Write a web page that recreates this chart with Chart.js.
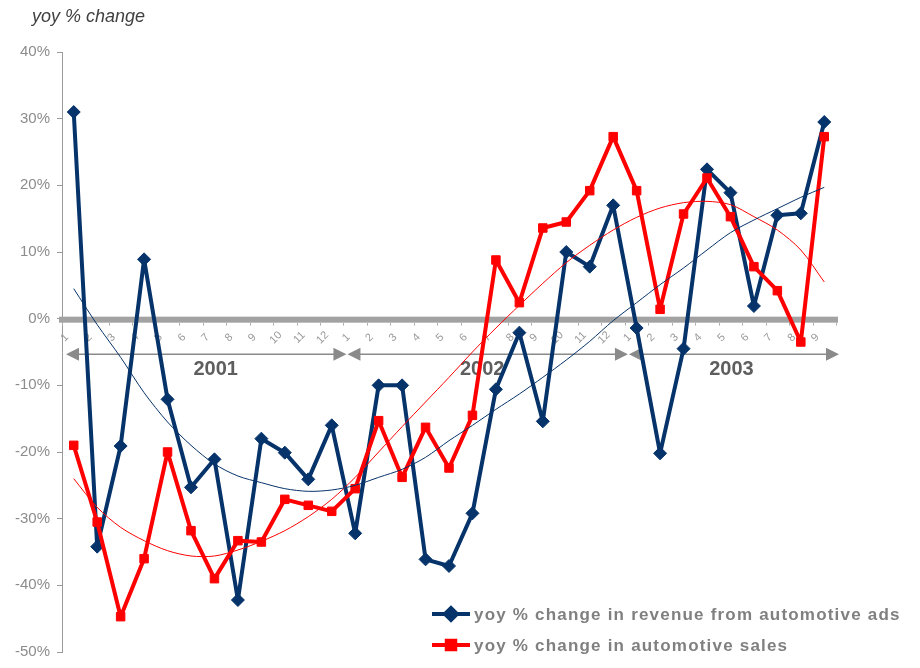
<!DOCTYPE html>
<html>
<head>
<meta charset="utf-8">
<script src="https://cdn.jsdelivr.net/npm/chart.js@4.4.1/dist/chart.umd.min.js"></script>
<style>
  body { margin: 0; background: #fff; }
  #wrap { width: 920px; height: 668px; }
</style>
</head>
<body>
<div id="wrap"><canvas id="autoChart"></canvas></div>
<script>
// month numbers under the zero line (2001: 1-12, 2002: 1-12, 2003: 1-9)
const months = ["1", "2", "3", "4", "5", "6", "7", "8", "9", "10", "11", "12",
  "1", "2", "3", "4", "5", "6", "7", "8", "9", "10", "11", "12",
  "1", "2", "3", "4", "5", "6", "7", "8", "9"];
const years = ["2001", "2002", "2003"];
const yearFirst = [0, 12, 24]; // first month index of each year
const yearLast = [11, 23, 32];

// yoy % change
const adRevenue = [31.0, -34.2, -19.1, 8.9, -12.1, -25.3, -21.1, -42.2, -18.0, -20.1, -24.1, -16.0,
  -32.2, -10.0, -10.0, -36.1, -37.1, -29.2, -10.6, -2.1, -15.4, 10.0, 7.8, 17.0,
  -1.4, -20.2, -4.5, 22.4, 18.9, 1.9, 15.5, 15.8, 29.5];
const autoSales = [-19.0, -30.5, -44.7, -36.0, -20.0, -31.8, -39.0, -33.3, -33.5, -27.1, -28.0, -28.9,
  -25.5, -15.3, -23.8, -16.3, -22.4, -14.5, 8.8, 2.4, 13.6, 14.5, 19.2, 27.3,
  19.2, 1.4, 15.7, 21.1, 15.3, 7.8, 4.2, -3.5, 27.3];

// thin trend curves, also
const adTrend = [4.5, -0.9, -5.8, -11.1, -15.5, -19.0, -21.8, -23.6, -24.6, -25.5, -25.9, -25.7,
  -25.0, -23.8, -22.6, -20.8, -18.3, -16.0, -13.6, -11.3, -8.8, -6.2, -3.4, -0.3,
  2.4, 5.1, 7.6, 10.3, 12.9, 14.8, 16.5, 18.2, 19.7];
const salesTrend = [-24.0, -28.3, -31.3, -33.3, -34.8, -35.6, -35.6, -34.7, -33.4, -31.8, -29.7, -27.1,
  -23.8, -20.0, -16.2, -12.5, -8.8, -5.0, -1.4, 2.0, 5.3, 8.4, 11.0, 13.3,
  15.2, 16.6, 17.4, 17.6, 17.1, 15.3, 13.3, 10.3, 5.5];

const yTicks = [40, 30, 20, 10, 0, -10, -20, -30, -40, -50];

const navy = "#05336a";
const red = "#ff0000";
const font = "'Liberation Sans', Arial, sans-serif";

function drawArrowHead(ctx, tipX, y, dir) {
  ctx.beginPath();
  ctx.moveTo(tipX, y);
  ctx.lineTo(tipX + dir * 13, y - 6.5);
  ctx.lineTo(tipX + dir * 13, y + 6.5);
  ctx.closePath();
  ctx.fill();
}

// zero band, month labels and year arrows go under the lines
const axisDecor = {
  id: "axisDecor",
  beforeDatasetsDraw(chart) {
    const ctx = chart.ctx;
    const xs = chart.scales.x;
    const ys = chart.scales.y;
    const area = chart.chartArea;
    const zero = ys.getPixelForValue(0);
    const step = xs.getPixelForValue(1) - xs.getPixelForValue(0);
    ctx.save();

    ctx.fillStyle = "#a2a2a2";
    ctx.fillRect(area.left - 3, zero - 2, area.right - area.left + 5, 6);

    ctx.strokeStyle = "#b0b0b0";
    ctx.lineWidth = 1;
    for (let i = 0; i <= months.length; i++) {
      const bx = Math.round(xs.getPixelForValue(i) - step / 2) + 0.5;
      ctx.beginPath();
      ctx.moveTo(bx, zero + 4);
      ctx.lineTo(bx, zero + 7);
      ctx.stroke();
    }

    ctx.fillStyle = "#999999";
    ctx.font = "11px " + font;
    ctx.textAlign = "center";
    ctx.textBaseline = "middle";
    months.forEach((m, i) => {
      ctx.save();
      ctx.translate(xs.getPixelForValue(i) - 9, zero + 19);
      ctx.rotate(-Math.PI / 4);
      ctx.fillText(m, 0, 0);
      ctx.restore();
    });

    const ay = zero + 35.5;
    ctx.strokeStyle = "#8a8a8a";
    ctx.fillStyle = "#8a8a8a";
    ctx.lineWidth = 1.5;
    years.forEach((yr, k) => {
      const x1 = xs.getPixelForValue(yearFirst[k]) - step / 2 + 4;
      const x2 = xs.getPixelForValue(yearLast[k]) + step / 2 + 3;
      ctx.beginPath();
      ctx.moveTo(x1 + 5, ay);
      ctx.lineTo(x2 - 5, ay);
      ctx.stroke();
      drawArrowHead(ctx, x1, ay, 1);
      drawArrowHead(ctx, x2, ay, -1);
    });

    // year names sit a little off-centre in the original
    const shift = [13, -2, 1];
    ctx.fillStyle = "#5e5e5e";
    ctx.font = "bold 20px " + font;
    ctx.textAlign = "center";
    ctx.textBaseline = "middle";
    years.forEach((yr, k) => {
      const x1 = xs.getPixelForValue(yearFirst[k]) - step / 2;
      const x2 = xs.getPixelForValue(yearLast[k]) + step / 2;
      ctx.fillText(yr, (x1 + x2) / 2 + shift[k], zero + 51);
    });
    ctx.restore();
  },
  afterDraw(chart) {
    const ctx = chart.ctx;
    ctx.save();
    // axis title at the top
    ctx.fillStyle = "#404040";
    ctx.font = "italic 18px " + font;
    ctx.textBaseline = "alphabetic";
    ctx.textAlign = "left";
    ctx.fillText("yoy % change", 32, 22);

    // legend, bottom right
    const entries = [
      { text: "yoy % change in revenue from automotive ads", color: navy, style: "rectRot", r: 6, y: 614 },
      { text: "yoy % change in automotive sales", color: red, style: "rect", r: 6, y: 645 },
    ];
    entries.forEach((e) => {
      ctx.strokeStyle = e.color;
      ctx.lineWidth = 4;
      ctx.beginPath();
      ctx.moveTo(432, e.y);
      ctx.lineTo(470, e.y);
      ctx.stroke();
      ctx.fillStyle = e.color;
      Chart.helpers.drawPoint(ctx, { pointStyle: e.style, radius: e.r, borderWidth: 1 }, 451, e.y);
      ctx.fillStyle = "#808080";
      ctx.font = "bold 17px " + font;
      ctx.letterSpacing = "1.2px";
      ctx.textBaseline = "middle";
      ctx.fillText(e.text, 474, e.y + 1);
    });
    ctx.restore();
  },
};

const ctx = document.getElementById("autoChart").getContext("2d");
const autoChart = new Chart(ctx, {
  type: "line",
  data: {
    labels: months,
    datasets: [
      {
        label: "trend revenue",
        data: adTrend,
        borderColor: navy,
        borderWidth: 1,
        pointRadius: 0,
        tension: 0.3,
        order: 0,
      },
      {
        label: "trend sales",
        data: salesTrend,
        borderColor: red,
        borderWidth: 1,
        pointRadius: 0,
        tension: 0.3,
        order: 0,
      },
      {
        label: "yoy % change in automotive sales",
        data: autoSales,
        borderColor: red,
        backgroundColor: red,
        borderWidth: 4,
        borderJoinStyle: "round",
        pointStyle: "rect",
        pointRadius: 6,
        pointBorderWidth: 1,
        tension: 0,
        order: 1,
      },
      {
        label: "yoy % change in revenue from automotive ads",
        data: adRevenue,
        borderColor: navy,
        backgroundColor: navy,
        borderWidth: 4,
        borderJoinStyle: "round",
        pointStyle: "rectRot",
        pointRadius: 6.5,
        pointBorderWidth: 1,
        tension: 0,
        order: 2,
      },
    ],
  },
  options: {
    responsive: true,
    maintainAspectRatio: false,
    animation: false,
    layout: { padding: { top: 52, right: 84, bottom: 8, left: 0 } },
    plugins: {
      legend: { display: false },
      tooltip: { enabled: false },
    },
    scales: {
      x: {
        type: "category",
        offset: true,
        display: false,
      },
      y: {
        min: -50,
        max: 40,
        afterFit: (scale) => { scale.width = 62; },
        afterBuildTicks: (scale) => { scale.ticks = yTicks.map((v) => ({ value: v })); },
        border: { display: true, color: "#9a9a9a", width: 1 },
        grid: { drawOnChartArea: false, drawTicks: true, tickLength: 5, color: "#9a9a9a" },
        ticks: {
          color: "#8c8c8c",
          font: { family: font, size: 15 },
          padding: 7,
          callback: (v) => v + "%",
        },
      },
    },
  },
  plugins: [axisDecor],
});
</script>
</body>
</html>
